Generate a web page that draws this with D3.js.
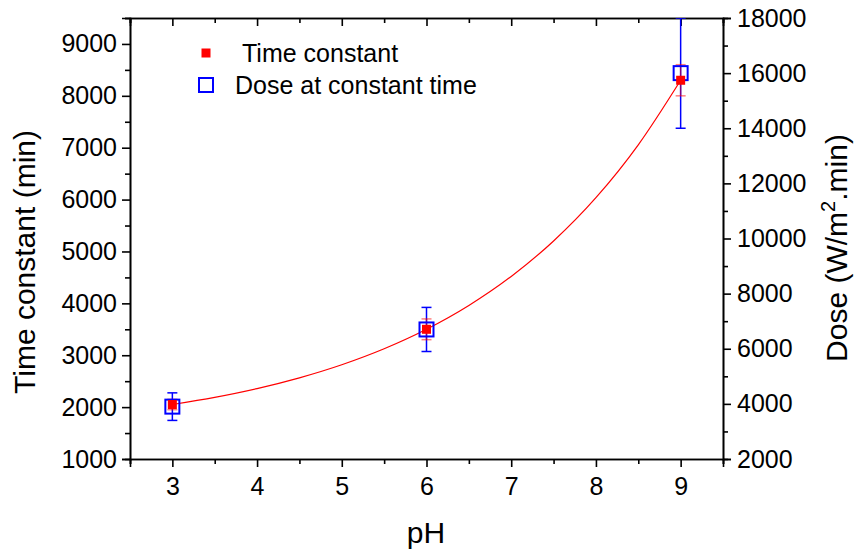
<!DOCTYPE html>
<html>
<head>
<meta charset="utf-8">
<script src="https://cdn.jsdelivr.net/npm/d3@7"></script>
<style>
  html, body { margin: 0; padding: 0; background: #fff; }
  svg text { font-family: "Liberation Sans", Arial, sans-serif; fill: #000; }
</style>
</head>
<body>
<svg id="chart" width="856" height="552"></svg>
<script>
// ---- data ----
const pH = [3, 6, 9];
const timeConstant = [2050, 3500, 8300];
const timeConstantErr = [100, 200, 300];
const dose = [3900, 6700, 16000];
const doseErr = [500, 800, 2000];
// fitted curve (red line)
const fitPH = [3, 3.5, 4, 4.5, 5, 5.5, 6, 6.5, 7, 7.5, 8, 8.5, 9];
const fitTime = [2050, 2188, 2357, 2564, 2816, 3124, 3500, 3959, 4519, 5203, 6037, 7056, 8300];
const xTicks = [3, 4, 5, 6, 7, 8, 9];
const xMinor = [2.5, 3.5, 4.5, 5.5, 6.5, 7.5, 8.5, 9.5];
const yLeftTicks = [1000, 2000, 3000, 4000, 5000, 6000, 7000, 8000, 9000];
const yLeftMinor = [1500, 2500, 3500, 4500, 5500, 6500, 7500, 8500, 9500];
const yRightTicks = [2000, 4000, 6000, 8000, 10000, 12000, 14000, 16000, 18000];
const yRightMinor = [3000, 5000, 7000, 9000, 11000, 13000, 15000, 17000];
const legendLabels = ["Time constant", "Dose at constant time"];

// ---- layout ----
const L = 130, R = 723, T = 18, B = 459;
const svg = d3.select("#chart");

const x = d3.scaleLinear().domain([2.5, 9.5]).range([L, R]);
const yL = d3.scaleLinear().domain([1000, 9500]).range([B, T]);
const yR = d3.scaleLinear().domain([2000, 18000]).range([B, T]);

const fmt = d3.format("d");
function styleAxis(g) {
  g.selectAll("path").attr("stroke", "#000").attr("stroke-width", 1.6);
  g.selectAll("line").attr("stroke", "#000").attr("stroke-width", 1.6);
  g.selectAll("text").style("font-size", "25px").style("font-family", '"Liberation Sans", Arial, sans-serif').attr("fill", "#000");
}

// bottom axis
svg.append("g").attr("transform", `translate(0,${B})`)
  .call(d3.axisBottom(x).tickValues(xTicks).tickFormat(fmt).tickSizeOuter(0).tickSize(8).tickPadding(10))
  .call(styleAxis);
svg.append("g").attr("transform", `translate(0,${B})`)
  .call(d3.axisBottom(x).tickValues(xMinor).tickFormat("").tickSizeOuter(0).tickSize(5))
  .call(styleAxis);
// top axis (ticks inward)
svg.append("g").attr("transform", `translate(0,${T})`)
  .call(d3.axisTop(x).tickValues(xTicks).tickFormat("").tickSizeOuter(0).tickSize(-8))
  .call(styleAxis);
svg.append("g").attr("transform", `translate(0,${T})`)
  .call(d3.axisTop(x).tickValues(xMinor).tickFormat("").tickSizeOuter(0).tickSize(-5))
  .call(styleAxis);
// left axis
svg.append("g").attr("transform", `translate(${L},0)`)
  .call(d3.axisLeft(yL).tickValues(yLeftTicks).tickFormat(fmt).tickSizeOuter(0).tickSize(8).tickPadding(5))
  .call(styleAxis);
svg.append("g").attr("transform", `translate(${L},0)`)
  .call(d3.axisLeft(yL).tickValues(yLeftMinor).tickFormat("").tickSizeOuter(0).tickSize(5))
  .call(styleAxis);
// right axis
svg.append("g").attr("transform", `translate(${R},0)`)
  .call(d3.axisRight(yR).tickValues(yRightTicks).tickFormat(fmt).tickSizeOuter(0).tickSize(8).tickPadding(6))
  .call(styleAxis);
svg.append("g").attr("transform", `translate(${R},0)`)
  .call(d3.axisRight(yR).tickValues(yRightMinor).tickFormat("").tickSizeOuter(0).tickSize(5))
  .call(styleAxis);

// axis titles
svg.append("text").attr("x", (L + R) / 2 - 0.5).attr("y", 543)
  .attr("text-anchor", "middle").style("font-size", "30px").text("pH");
svg.append("text").attr("transform", `translate(35,262) rotate(-90)`)
  .attr("text-anchor", "middle").style("font-size", "30px").text("Time constant (min)");
const rt = svg.append("text").attr("transform", `translate(847,248) rotate(-90)`)
  .attr("text-anchor", "middle").style("font-size", "30px");
rt.append("tspan").text("Dose (W/m");
rt.append("tspan").attr("dy", -12).style("font-size", "20px").text("2");
rt.append("tspan").attr("dy", 12).text(".min)");

// clip to plot area
svg.append("clipPath").attr("id", "clip").append("rect")
  .attr("x", L).attr("y", T).attr("width", R - L).attr("height", B - T);
const plot = svg.append("g").attr("clip-path", "url(#clip)");

// fit curve
const line = d3.line().x((d, i) => x(fitPH[i])).y(d => yL(d)).curve(d3.curveMonotoneX);
plot.append("path").datum(fitTime).attr("d", line)
  .attr("fill", "none").attr("stroke", "#ff0000").attr("stroke-width", 1.2);

// dose error bars (blue)
const capW = 5;
pH.forEach((p, i) => {
  const cx = x(p);
  const g = plot.append("g").attr("stroke", "#0000ff").attr("stroke-width", 1.5);
  g.append("line").attr("x1", cx).attr("x2", cx)
    .attr("y1", yR(dose[i] + doseErr[i])).attr("y2", yR(dose[i] - doseErr[i]));
  g.append("line").attr("x1", cx - capW).attr("x2", cx + capW)
    .attr("y1", yR(dose[i] + doseErr[i])).attr("y2", yR(dose[i] + doseErr[i]));
  g.append("line").attr("x1", cx - capW).attr("x2", cx + capW)
    .attr("y1", yR(dose[i] - doseErr[i])).attr("y2", yR(dose[i] - doseErr[i]));
});
// time constant error bars (red, light)
pH.forEach((p, i) => {
  const cx = x(p);
  const g = plot.append("g").attr("stroke", "#ff0000").attr("stroke-opacity", 0.5).attr("stroke-width", 1.5);
  g.append("line").attr("x1", cx).attr("x2", cx)
    .attr("y1", yL(timeConstant[i] + timeConstantErr[i])).attr("y2", yL(timeConstant[i] - timeConstantErr[i]));
  g.append("line").attr("x1", cx - capW).attr("x2", cx + capW)
    .attr("y1", yL(timeConstant[i] + timeConstantErr[i])).attr("y2", yL(timeConstant[i] + timeConstantErr[i]));
  g.append("line").attr("x1", cx - capW).attr("x2", cx + capW)
    .attr("y1", yL(timeConstant[i] - timeConstantErr[i])).attr("y2", yL(timeConstant[i] - timeConstantErr[i]));
});

// dose markers (open blue squares)
const bs = 14;
plot.selectAll("rect.dose").data(dose).enter().append("rect").attr("class", "dose")
  .attr("x", (d, i) => x(pH[i]) - bs / 2).attr("y", d => yR(d) - bs / 2)
  .attr("width", bs).attr("height", bs)
  .attr("fill", "none").attr("stroke", "#0000ff").attr("stroke-width", 2);
// time constant markers (filled red squares)
const rs = 9;
plot.selectAll("rect.tc").data(timeConstant).enter().append("rect").attr("class", "tc")
  .attr("x", (d, i) => x(pH[i]) - rs / 2).attr("y", d => yL(d) - rs / 2)
  .attr("width", rs).attr("height", rs).attr("fill", "#ff0000");

// legend
svg.append("rect").attr("x", 206 - rs / 2).attr("y", 53 - rs / 2)
  .attr("width", rs).attr("height", rs).attr("fill", "#ff0000");
svg.append("text").attr("x", 242).attr("y", 62).style("font-size", "25px").text(legendLabels[0]);
svg.append("rect").attr("x", 206 - bs / 2).attr("y", 85 - bs / 2)
  .attr("width", bs).attr("height", bs).attr("fill", "none").attr("stroke", "#0000ff").attr("stroke-width", 2);
svg.append("text").attr("x", 235).attr("y", 94).style("font-size", "25px").text(legendLabels[1]);
</script>
</body>
</html>
